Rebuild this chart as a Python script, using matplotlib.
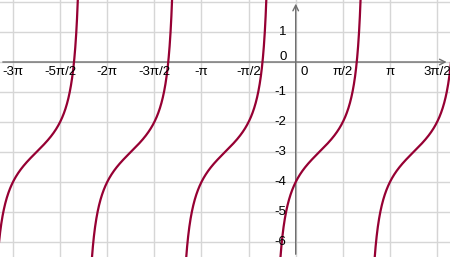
import numpy as np
import matplotlib.pyplot as plt

plt.rcParams['font.family'] = ['Liberation Sans', 'DejaVu Sans']

# ==========================
# Chart data
# y = tan(x - PHASE) + OFFSET, period pi
# ==========================
PHASE = np.pi / 4
OFFSET = -3
branch_ids = [-3, -2, -1, 0, 1]          # one branch per period

x_tick_vals = [-3 * np.pi, -5 * np.pi / 2, -2 * np.pi, -3 * np.pi / 2, -np.pi,
               -np.pi / 2, np.pi / 2, np.pi, 3 * np.pi / 2]
x_tick_labels = ['-3π', '-5π/2', '-2π', '-3π/2', '-π', '-π/2', 'π/2', 'π', '3π/2']
y_tick_vals = [1, -1, -2, -3, -4, -5, -6]

XMIN, XMAX = -9.857, 5.143
YMIN, YMAX = -6.5, 2.067

CURVE_COLOR = '#960033'
GRID_COLOR = '#d6d6d6'
AXIS_COLOR = '#6e6e6e'

fig = plt.figure(figsize=(4.5, 2.57), dpi=100)
ax = fig.add_axes([0, 0, 1, 1])
ax.set_xlim(XMIN, XMAX)
ax.set_ylim(YMIN, YMAX)
for s in ax.spines.values():
    s.set_visible(False)
ax.set_xticks([])
ax.set_yticks([])

# grid: pi/2 in x, 1 in y
k = np.arange(-8, 5)
for gx in k * np.pi / 2:
    ax.axvline(gx, color=GRID_COLOR, lw=1, zorder=0)
for gy in range(-7, 3):
    ax.axhline(gy, color=GRID_COLOR, lw=1, zorder=0)

# axes with open arrow heads
arrow = dict(arrowstyle='->', color=AXIS_COLOR, lw=1, mutation_scale=10)
ax.annotate('', xy=(XMAX - 0.02, 0), xytext=(XMIN, 0), arrowprops=arrow, zorder=1)
ax.annotate('', xy=(0, YMAX - 0.03), xytext=(0, YMIN), arrowprops=arrow, zorder=1)

# the curve, one branch between consecutive asymptotes
for b in branch_ids:
    lo = PHASE - np.pi / 2 + b * np.pi
    hi = PHASE + np.pi / 2 + b * np.pi
    xs = np.linspace(lo + 0.02, hi - 0.02, 800)
    ys = np.tan(xs - PHASE) + OFFSET
    ax.plot(xs, ys, color=CURVE_COLOR, lw=1.6, zorder=3, solid_capstyle='butt')

# tick labels
fs = 9.5
for v, lab in zip(x_tick_vals, x_tick_labels):
    ax.text(v, -0.32, lab, ha='center', va='center', fontsize=fs, color='black')
ax.text(0.17, -0.32, '0', ha='left', va='center', fontsize=fs)
for v in y_tick_vals:
    ax.text(-0.3, v, str(v), ha='right', va='center', fontsize=fs)
ax.text(-0.3, 0.17, '0', ha='right', va='center', fontsize=fs)

fig.savefig('out.png', dpi=100)
